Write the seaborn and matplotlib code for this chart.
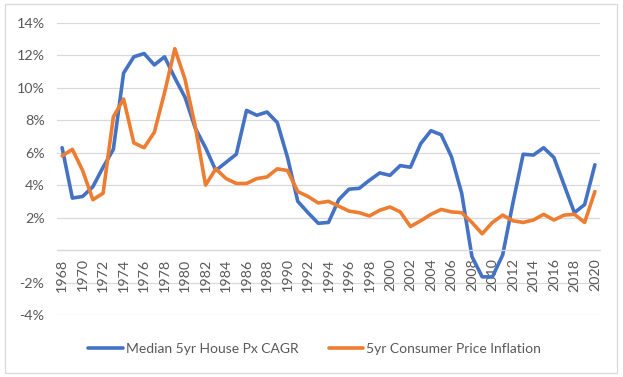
import numpy as np
import pandas as pd
import matplotlib
matplotlib.use("Agg")
import matplotlib.pyplot as plt
import seaborn as sns
from matplotlib.patches import Rectangle

years = list(range(1968, 2021))

house_cagr = [6.3, 3.2, 3.3, 3.9, 5.1, 6.2, 10.9, 11.9, 12.1, 11.4, 11.9, 10.6,
              9.4, 7.5, 6.3, 4.9, 5.4, 5.9, 8.6, 8.3, 8.5, 7.85, 5.7, 3.0,
              2.3, 1.65, 1.7, 3.1, 3.75, 3.8, 4.3, 4.75, 4.6, 5.2, 5.1, 6.55,
              7.35, 7.1, 5.75, 3.5, -0.4, -1.65, -1.65, -0.3, 2.9, 5.9, 5.85, 6.3,
              5.7, 4.0, 2.3, 2.8, 5.25]

cpi_infl = [5.8, 6.2, 4.9, 3.1, 3.5, 8.2, 9.3, 6.6, 6.3, 7.25, 9.7, 12.4,
            10.5, 7.6, 4.0, 5.0, 4.4, 4.1, 4.1, 4.4, 4.5, 5.0, 4.9, 3.6,
            3.3, 2.9, 3.0, 2.7, 2.4, 2.3, 2.1, 2.45, 2.65, 2.35, 1.45, 1.8,
            2.2, 2.5, 2.35, 2.3, 1.7, 1.0, 1.7, 2.15, 1.8, 1.7, 1.85, 2.2,
            1.85, 2.15, 2.2, 1.7, 3.6]

series_names = ["Median 5yr House Px CAGR", "5yr Consumer Price Inflation"]
colors = ["#4472C4", "#ED7D31"]

y_ticks = [-4, -2, 0, 2, 4, 6, 8, 10, 12, 14]
y_labels = ["-4%", "-2%", "", "2%", "4%", "6%", "8%", "10%", "12%", "14%"]
x_ticks = years[::2]

df = pd.DataFrame({
    "Year": years * 2,
    "Value": house_cagr + cpi_infl,
    "Series": [series_names[0]] * len(years) + [series_names[1]] * len(years),
})

sns.set_style("white")
plt.rcParams['font.family'] = ['Lato', 'DejaVu Sans']

text_col = "#595959"
grid_col = "#D9D9D9"

fig = plt.figure(figsize=(6.23, 3.77), dpi=100)
ax = fig.add_axes([57 / 623, 1 - 315 / 377, 543 / 623, 292.3 / 377])

sns.lineplot(data=df, x="Year", y="Value", hue="Series", hue_order=series_names,
             palette=colors, linewidth=2.6, ax=ax, legend=False)

# axis line at 0 (set before tick formatting, it resets the ticks)
for s in ["top", "right", "left"]:
    ax.spines[s].set_visible(False)
ax.spines["bottom"].set_position(("data", 0))
ax.spines["bottom"].set_color(grid_col)
ax.spines["bottom"].set_linewidth(0.9)

ax.set_xlim(1967.5, 2020.5)
ax.set_ylim(-4, 14)
ax.set_yticks(y_ticks)
ax.set_yticklabels(y_labels)
ax.set_xticks(x_ticks)
ax.set_xticklabels([str(y) for y in x_ticks])
ax.set_xlabel("")
ax.set_ylabel("")

for t in y_ticks:
    ax.axhline(t, color=grid_col, linewidth=0.9, zorder=0)

ax.tick_params(axis="both", length=0, colors=text_col, labelsize=10.3)
ax.tick_params(axis="x", pad=6, labelrotation=90)
ax.tick_params(axis="y", pad=9)

handles = [plt.Line2D([0], [0], color=c, linewidth=2.6) for c in colors]
fig.legend(handles, series_names, loc="center", bbox_to_anchor=(0.505, 1 - 349 / 377),
           ncol=2, frameon=False, fontsize=10, handlelength=2.5, handletextpad=0.2,
           columnspacing=2.2, labelcolor=text_col)

fig.patches.append(Rectangle((5 / 623, 4 / 377), 612 / 623, 369 / 377, transform=fig.transFigure,
                             fill=False, edgecolor="#D9D9D9", linewidth=0.9))

fig.savefig("out.png", dpi=100)
